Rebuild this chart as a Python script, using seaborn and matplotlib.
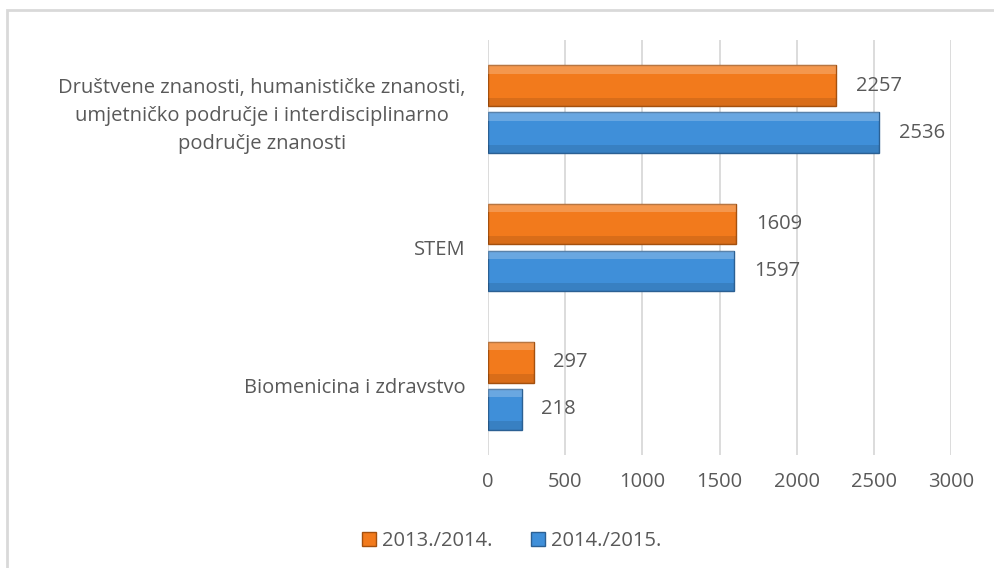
import pandas as pd
import matplotlib.pyplot as plt
import seaborn as sns
from matplotlib.patches import Rectangle

# chart data
categories = [
    "Društvene znanosti, humanističke znanosti,\numjetničko područje i interdisciplinarno\npodručje znanosti",
    "STEM",
    "Biomenicina i zdravstvo",
]
years = ["2013./2014.", "2014./2015."]
values_2013 = [2257, 1609, 297]
values_2014 = [2536, 1597, 218]
x_ticks = [0, 500, 1000, 1500, 2000, 2500, 3000]

df = pd.DataFrame({
    "kategorija": categories * 2,
    "godina": [years[0]] * 3 + [years[1]] * 3,
    "broj": values_2013 + values_2014,
})

sns.set_theme(style="white")
plt.rcParams["font.family"] = ["Open Sans", "DejaVu Sans"]
TEXT = "#595959"
FS = 14.5

fig = plt.figure(figsize=(9.95, 5.68), dpi=100)
ax = fig.add_axes([488 / 995, 1 - 455 / 568, (951 - 488) / 995, 415 / 568])

palette = {years[0]: "#F27A1C", years[1]: "#3F8FD9"}
edges = {years[0]: "#A4500E", years[1]: "#2B6093"}
sns.barplot(data=df, y="kategorija", x="broj", hue="godina", order=categories,
            hue_order=years, palette=palette, saturation=1, width=0.68, gap=0.14,
            orient="h", ax=ax, legend=False, zorder=3)

for cont, yr in zip(ax.containers, years):
    for bar in cont:
        bar.set_edgecolor(edges[yr])
        bar.set_linewidth(1.0)
        # bevel look: lighter top strip, darker bottom strip
        x0, y0 = bar.get_x(), bar.get_y()
        w, h = bar.get_width(), bar.get_height()
        ax.add_patch(Rectangle((x0, y0), w, h * 0.2, facecolor="white",
                               alpha=0.22, linewidth=0, zorder=4))
        ax.add_patch(Rectangle((x0, y0 + h * 0.8), w, h * 0.2, facecolor="black",
                               alpha=0.10, linewidth=0, zorder=4))
    ax.bar_label(cont, labels=[f"{v:.0f}" for v in cont.datavalues],
                 padding=14, fontsize=FS, color=TEXT)

ax.set_xlim(0, 3000)
ax.set_ylim(2.5, -0.5)
ax.set_xticks(x_ticks)
ax.grid(axis="x", color="#d9d9d9", linewidth=1.3, zorder=0)
ax.set_xlabel("")
ax.set_ylabel("")
for s in ax.spines.values():
    s.set_visible(False)
ax.tick_params(axis="x", length=0, pad=12, labelsize=FS, labelcolor=TEXT)
ax.tick_params(axis="y", length=0, pad=16, labelsize=FS, labelcolor=TEXT)
for lbl in ax.get_yticklabels():
    lbl.set_multialignment("center")
    lbl.set_linespacing(1.55)

handles = [Rectangle((0, 0), 1, 1, facecolor=palette[y], edgecolor=edges[y]) for y in years]
fig.legend(handles, years, loc="center", bbox_to_anchor=(512 / 995, 1 - 541 / 568),
           ncol=2, frameon=False, fontsize=FS, handlelength=0.7, handleheight=0.7,
           handletextpad=0.3, columnspacing=1.9, labelcolor=TEXT)

# outer chart frame
fig.patches.append(Rectangle((7 / 995, -0.05), 1.1, 1 - 10 / 568 + 0.05,
                             transform=fig.transFigure, fill=False,
                             edgecolor="#d9d9d9", linewidth=2))

fig.savefig("out.png", dpi=100)
